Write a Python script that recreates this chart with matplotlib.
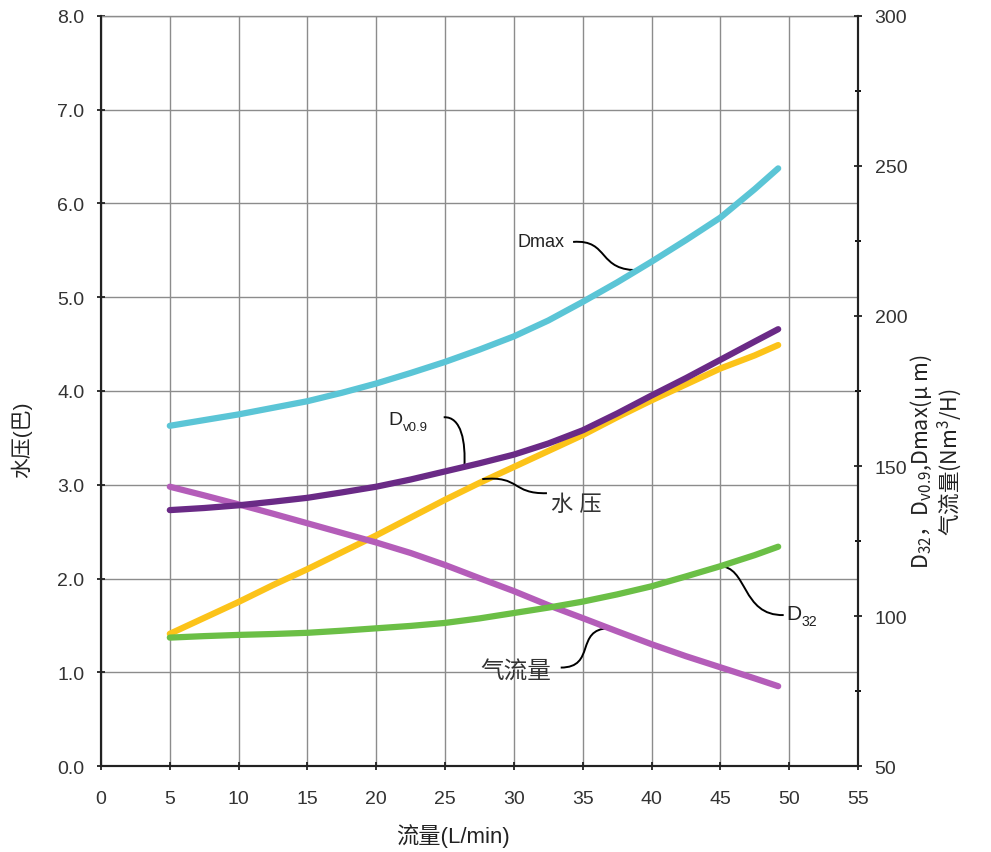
import matplotlib.pyplot as plt
import numpy as np
from matplotlib.ticker import MultipleLocator
from matplotlib.path import Path
from matplotlib.patches import PathPatch

plt.rcParams['font.family'] = ['Liberation Sans', 'Noto Sans CJK SC', 'DejaVu Sans']
plt.rcParams['mathtext.default'] = 'regular'

# flow rate (L/min)
flow = [5, 7.5, 10, 12.5, 15, 17.5, 20, 22.5, 25, 27.5, 30, 32.5, 35, 37.5, 40, 42.5, 45, 47.5, 49.2]

# left axis: water pressure (bar)
water_pressure = [1.41, 1.58, 1.75, 1.93, 2.10, 2.28, 2.46, 2.65, 2.84, 3.02, 3.19,
                  3.36, 3.53, 3.72, 3.90, 4.07, 4.24, 4.38, 4.49]

# right axis: droplet sizes (um) and air flow (Nm3/H)
dmax = [163.4, 165.3, 167.2, 169.4, 171.6, 174.4, 177.5, 181.0, 184.7, 188.8, 193.2,
        198.5, 204.7, 211.2, 218.1, 225.3, 232.8, 242.3, 249.2]
dv09 = [135.3, 136.0, 136.9, 138.1, 139.4, 141.2, 143.1, 145.5, 148.2, 150.9, 153.8,
        157.5, 161.9, 167.5, 173.5, 179.3, 185.4, 191.5, 195.6]
d32 = [92.8, 93.3, 93.7, 94.0, 94.4, 95.1, 95.9, 96.7, 97.7, 99.2, 101.0,
       102.8, 104.8, 107.2, 109.9, 113.2, 116.6, 120.3, 123.1]
air_flow = [143.1, 140.2, 137.2, 134.1, 130.9, 127.7, 124.5, 121.0, 117.0, 112.6, 108.3,
            103.6, 99.3, 94.9, 90.6, 86.6, 82.9, 79.2, 76.6]

fig = plt.figure(figsize=(9.91, 8.53), dpi=100)
ax1 = fig.add_axes([0.1019, 0.1008, 0.7639, 0.8793])
ax2 = ax1.twinx()

ax1.set_xlim(0, 55)
ax1.set_ylim(0, 8)
ax2.set_ylim(50, 300)

ax1.set_xticks(np.arange(0, 56, 5))
ax1.set_yticks(np.arange(0, 8.1, 1))
ax1.set_yticklabels([f'{v:.1f}' for v in np.arange(0, 8.1, 1)])
ax2.set_yticks(np.arange(50, 301, 50))
ax2.yaxis.set_minor_locator(MultipleLocator(25))

ax1.grid(True, color='#8c8c8c', linewidth=1.0)
ax1.set_axisbelow(True)

lw = 4.5
ax1.plot(flow, water_pressure, color='#fcc319', linewidth=lw, solid_capstyle='round',
         solid_joinstyle='round', zorder=3)
for series, col in [(air_flow, '#b45db9'), (d32, '#6bbf46'), (dv09, '#6a2a86'), (dmax, '#5bc5d6')]:
    ax2.plot(flow, series, color=col, linewidth=lw, solid_capstyle='round', solid_joinstyle='round')

for ax in (ax1, ax2):
    for sp in ax.spines.values():
        sp.set_linewidth(1.5)
        sp.set_color('#222222')
    ax.tick_params(direction='inout', length=6, width=1.3, labelsize=14,
                   colors='#222222', labelcolor='#333333', pad=9)
    ax.tick_params(which='minor', direction='inout', length=5, width=1.3)
ax1.spines['top'].set_color('#8c8c8c')
ax1.spines['top'].set_linewidth(1.0)
ax2.spines['top'].set_visible(False)
ax1.tick_params(axis='x', pad=14)

fig.text(453 / 991, 1 - 836 / 853, '流量(L/min)', fontsize=16, ha='center', va='center', color='#222222')
fig.text(22 / 991, 1 - 440 / 853, '水压(巴)', fontsize=15, ha='center', va='center',
         rotation=90, color='#222222')
fig.text(936 / 991, 1 - 462 / 853, 'D$_{32}$，D$_{v0.9}$,Dmax(μ m)\n气流量(Nm$^3$/H)', fontsize=15.5,
         family='Noto Sans CJK SC', ha='center', va='center', rotation=90, linespacing=1.05,
         color='#222222')


def leader(p0, c1, c2, p1):
    path = Path([p0, c1, c2, p1], [Path.MOVETO, Path.CURVE4, Path.CURVE4, Path.CURVE4])
    ax1.add_patch(PathPatch(path, fill=False, edgecolor='black', linewidth=1.4, zorder=6))


def sub_label(x, y, base, sub, size):
    # base letter plus a smaller subscript, kept in Liberation Sans
    ax1.text(x, y, base, fontsize=size, ha='left', va='center', color='#222222')
    ax1.annotate(sub, xy=(x, y), xytext=(0.72 * size, -0.38 * size), textcoords='offset points',
                 fontsize=size * 0.68, ha='left', va='center', color='#222222')


ax1.text(32.0, 5.59, 'Dmax', fontsize=13, ha='center', va='center', color='#222222')
leader((34.3, 5.59), (37.0, 5.62), (36.0, 5.27), (39.2, 5.29))

sub_label(20.9, 3.70, 'D', 'v0.9', 14)
leader((24.9, 3.72), (26.2, 3.73), (26.5, 3.45), (26.4, 3.19))

ax1.text(34.5, 2.79, '水 压', fontsize=16, ha='center', va='center', color='#333333')
leader((27.7, 3.06), (30.5, 3.10), (29.8, 2.90), (32.4, 2.91))

ax1.text(30.1, 1.01, '气流量', fontsize=17, ha='center', va='center', color='#333333')
leader((33.4, 1.05), (36.0, 1.05), (34.4, 1.46), (36.9, 1.47))

sub_label(49.8, 1.63, 'D', '32', 15)
leader((49.6, 1.61), (46.5, 1.60), (47.0, 2.14), (44.9, 2.13))

fig.savefig('out.png', dpi=100)
